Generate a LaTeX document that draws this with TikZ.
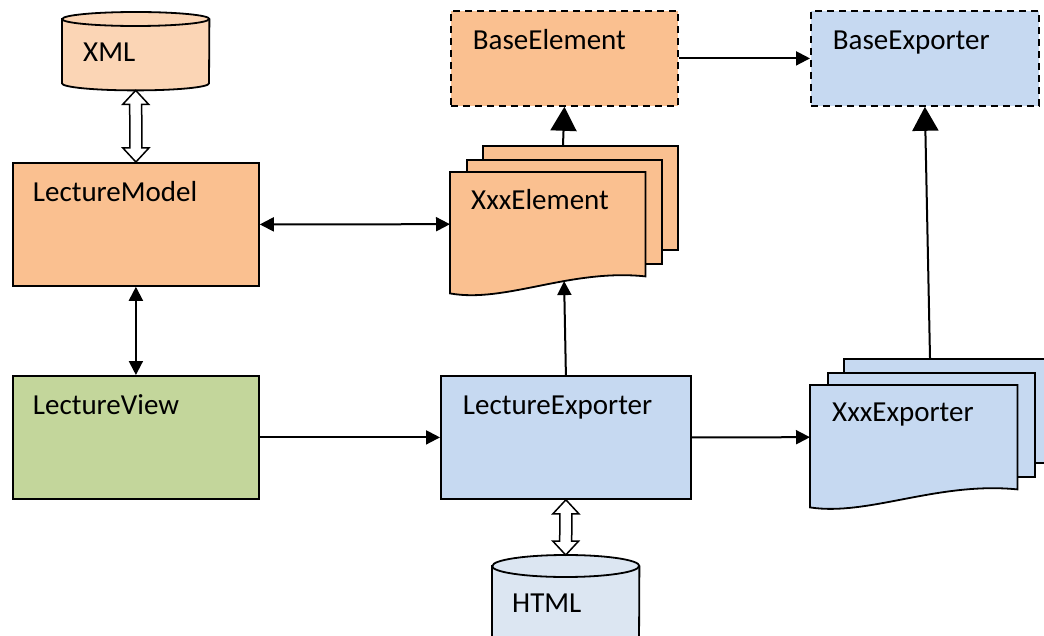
\documentclass[tikz,border=0pt]{standalone}
\usepackage{fontspec}
\setmainfont{Carlito}
\usetikzlibrary{arrows.meta}
\usetikzlibrary{backgrounds,calc,positioning}

\definecolor{orgfill}{HTML}{FAC090}
\definecolor{xmlfill}{HTML}{FBD5B5}
\definecolor{bluefill}{HTML}{C6D9F1}
\definecolor{htmlfill}{HTML}{DCE6F2}
\definecolor{greenfill}{HTML}{C3D69B}

\begin{document}
\begin{tikzpicture}[x=1pt,y=-1pt,
    font=\fontsize{29}{34}\selectfont,
    box/.style={draw,line width=1.8pt,anchor=north west,inner xsep=20pt,inner ysep=0pt,align=left,text height=39pt},
    basebox/.style={box,dash pattern=on 7pt off 5pt},
    doc/.style={anchor=north west,inner xsep=21pt,inner ysep=0pt,align=left,text width=153pt,text height=37pt,text depth=67pt},
    sheet/.style={draw,line width=1.8pt,anchor=north west,minimum width=195pt,minimum height=104pt,inner sep=0pt},
    dbnode/.style={anchor=north west,inner xsep=21pt,inner ysep=0pt,text width=105pt,align=left},
    tipS/.style={line width=2pt,-{Triangle[length=14pt,width=14pt]}},
    tipSS/.style={line width=2pt,{Triangle[length=14pt,width=14pt]}-{Triangle[length=14pt,width=14pt]}},
    tipB/.style={line width=2pt,-{Triangle[length=24pt,width=26pt]}},
    hollow/.style={draw,line width=1.5pt,fill=white,line join=miter}]
        \useasboundingbox (0,0) rectangle (1044,636);

        % top row
        \node[dbnode,text height=49pt,text depth=29pt] (xml) at (62,12) {XML};
        \node[basebox,fill=orgfill,inner xsep=22pt,text width=183pt,text depth=56pt] (bel) at (450,10) {BaseElement};
        \node[basebox,fill=bluefill,inner xsep=22pt,text width=184pt,text depth=56pt] (bex) at (810,10) {BaseExporter};

        % middle row
        \node[box,fill=orgfill,text width=206pt,text depth=84pt] (lm) at (12,162) {LectureModel};
        \node[doc] (xel) at (450,172) {XxxElement};

        % bottom row
        \node[box,fill=greenfill,text width=206pt,text depth=84pt] (lv) at (12,375) {LectureView};
        \node[box,fill=bluefill,inner xsep=22pt,text width=206pt,text depth=84pt] (lex) at (440,375) {LectureExporter};
        \node[doc,inner xsep=22pt,text width=163pt,text height=36pt,text depth=68pt] (xexp) at (810,385) {XxxExporter};
        \node[dbnode,inner xsep=20pt,text width=107pt,text height=57pt,text depth=43pt] (html) at (492,555) {HTML};

        \begin{scope}[on background layer]
          % cylinders
          \draw[line width=1.8pt,fill=xmlfill] ($(xml.north west)+(0,7)$) -- ($(xml.south west)+(0,-7)$)
            arc[start angle=180,end angle=360,x radius=73.5pt,y radius=7pt] -- ($(xml.north east)+(0,7)$)
            arc[start angle=0,end angle=180,x radius=73.5pt,y radius=7pt] -- cycle;
          \draw[line width=1.8pt] ($(xml.north west)+(0,7)$) arc[start angle=180,end angle=360,x radius=73.5pt,y radius=7pt];
          \draw[line width=1.8pt,fill=htmlfill] ($(html.north west)+(0,11)$) -- ($(html.south west)+(0,-11)$)
            arc[start angle=180,end angle=360,x radius=73.5pt,y radius=11pt] -- ($(html.north east)+(0,11)$)
            arc[start angle=0,end angle=180,x radius=73.5pt,y radius=11pt] -- cycle;
          \draw[line width=1.8pt] ($(html.north west)+(0,11)$) arc[start angle=180,end angle=360,x radius=73.5pt,y radius=11pt];

          % stacked documents
          \node[sheet,fill=orgfill] (xel3) at ($(xel.north west)+(32,-27)$) {};
          \node[sheet,fill=orgfill] (xel2) at ($(xel.north west)+(16,-13)$) {};
          \draw[line width=1.8pt,fill=orgfill] (xel.north west) -- (xel.north east) -- (xel.south east)
            .. controls ($(xel.south east)+(-75,-8)$) and ($(xel.south west)+(55,27)$) .. ($(xel.south west)+(0,17)$)
            coordinate[pos=0.38] (xelw) -- cycle;

          \node[sheet,fill=bluefill,minimum width=207pt] (xexp3) at ($(xexp.north west)+(33,-27)$) {};
          \node[sheet,fill=bluefill,minimum width=207pt] (xexp2) at ($(xexp.north west)+(17,-13)$) {};
          \draw[line width=1.8pt,fill=bluefill] (xexp.north west) -- (xexp.north east) -- (xexp.south east)
            .. controls ($(xexp.south east)+(-80,-8)$) and ($(xexp.south west)+(58,27)$) .. ($(xexp.south west)+(0,18)$)
            -- cycle;
        \end{scope}

        % hollow double arrows
        \draw[hollow] (xml.south) -- ++(13,14) -- ++(-7,0) -- ($(lm.north)+(6,-14)$) -- ++(7,0) -- (lm.north)
          -- ++(-13,-14) -- ++(7,0) -- ($(xml.south)+(-6,14)$) -- ++(-7,0) -- cycle;
        \draw[hollow] (lex.south) -- ++(13,14) -- ++(-7,0) -- ($(html.north)+(6,-14)$) -- ++(7,0) -- (html.north)
          -- ++(-13,-14) -- ++(7,0) -- ($(lex.south)+(-6,14)$) -- ++(-7,0) -- cycle;

        % connectors
        \draw[tipS] (bel.east) -- (bex.west);
        \draw[tipB] ($(xel3.north west)+(81,0)$) -- (bel.south);
        \draw[tipB] ($(xexp3.north west)+(87,0)$) -- (bex.south);
        \draw[tipSS] (lm.east) -- (xel.west);
        \draw[tipSS] (lm.south) -- (lv.north);
        \draw[tipS] (lv.east) -- (lex.west);
        \draw[tipS] (lex.east) -- (xexp.west);
        \draw[tipS] (lex.north) -- (xelw);
\end{tikzpicture}
\end{document}
